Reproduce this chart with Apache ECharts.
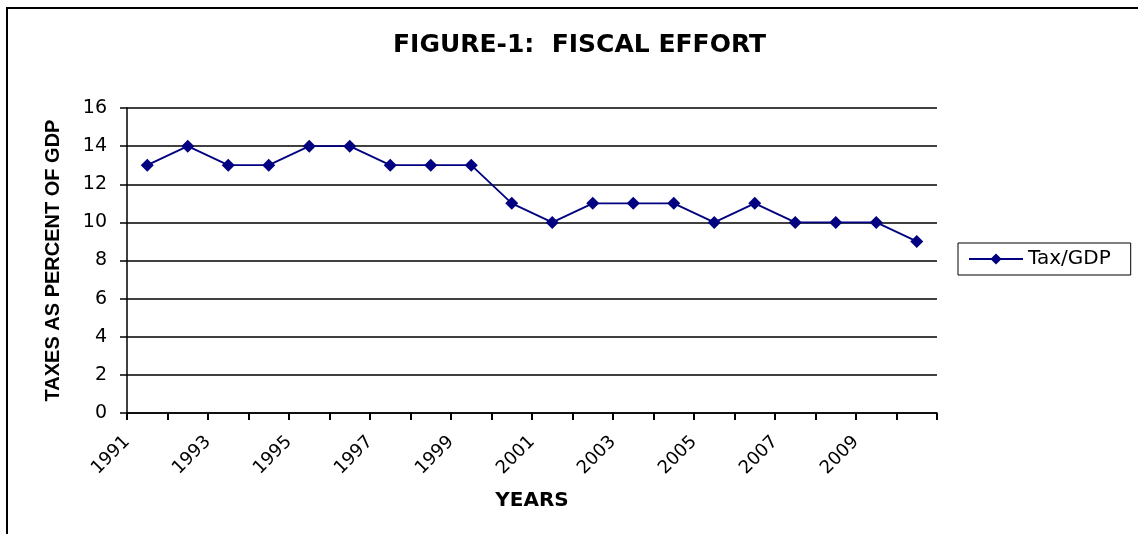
<!DOCTYPE html>
<html>
<head>
<meta charset="utf-8">
<script src="https://cdn.jsdelivr.net/npm/echarts@6/dist/echarts.min.js"></script>
<style>
html,body{margin:0;padding:0;background:#fff;}
#chart{width:1138px;height:534px;}
</style>
</head>
<body>
<div id="chart"></div>
<script>
var years = ['1991','1992','1993','1994','1995','1996','1997','1998','1999','2000',
             '2001','2002','2003','2004','2005','2006','2007','2008','2009','2010'];
var taxGdp = [13,14,13,13,14,14,13,13,13,11,10,11,11,11,10,11,10,10,10,9];
var tickLabels = ['1991','1992','1993','1994','1995','1996','1997','1998','1999','2000',
                  '2001','2002','2003','2004','2005','2006','2007','2008','2009','2010',''];
var yTicks = {min: 0, max: 16, interval: 2};

var chart = echarts.init(document.getElementById('chart'));
chart.setOption({
  backgroundColor: '#ffffff',
  animation: false,
  title: {
    text: 'FIGURE-1:  FISCAL EFFORT',
    left: 388, top: 28,
    textStyle: {fontFamily: 'DejaVu Sans', fontWeight: 'bold', fontSize: 25, color: '#000'}
  },
  graphic: [{
    type: 'rect', silent: true,
    shape: {x: 7, y: 8, width: 1300, height: 700},
    style: {fill: 'none', stroke: '#000', lineWidth: 2}
  }],
  legend: {
    left: 958, top: 243,
    orient: 'vertical',
    padding: [6, 20, 6, 10],
    itemWidth: 54, itemHeight: 14, itemGap: 5,
    borderColor: '#000', borderWidth: 1,
    textStyle: {fontFamily: 'DejaVu Sans', fontSize: 20, color: '#000'},
    data: ['Tax/GDP']
  },
  grid: {left: 127, top: 108, right: 201, bottom: 121, containLabel: false},
  xAxis: [{
    type: 'category', data: years, boundaryGap: true,
    name: 'YEARS', nameLocation: 'middle', nameGap: 78,
    nameTextStyle: {fontFamily: 'DejaVu Sans', fontWeight: 'bold', fontSize: 20, color: '#000'},
    axisLine: {lineStyle: {color: '#000', width: 1.5}},
    axisTick: {show: true, length: 7, lineStyle: {color: '#000', width: 2}},
    axisLabel: {show: false},
    splitLine: {show: false}
  }, {
    type: 'category', data: tickLabels, boundaryGap: false, position: 'bottom',
    axisLine: {show: false}, axisTick: {show: false},
    axisLabel: {show: true, interval: 1, rotate: 45, margin: 26,
      fontFamily: 'DejaVu Sans', fontSize: 18, color: '#000'},
    splitLine: {show: false}
  }],
  yAxis: {
    type: 'value', min: yTicks.min, max: yTicks.max, interval: yTicks.interval,
    name: 'TAXES AS PERCENT OF GDP', nameLocation: 'middle', nameGap: 64,
    nameTextStyle: {fontFamily: 'Liberation Sans', fontWeight: 'bold', fontSize: 20, color: '#000'},
    axisLine: {show: true, lineStyle: {color: '#000', width: 1.5}},
    axisTick: {show: true, length: 7, lineStyle: {color: '#000', width: 1.5}},
    axisLabel: {margin: 20, fontFamily: 'DejaVu Sans', fontSize: 19, color: '#000'},
    splitLine: {show: true, lineStyle: {color: '#000', width: 1.5}}
  },
  series: [{
    name: 'Tax/GDP', type: 'line', xAxisIndex: 0, data: taxGdp,
    symbol: 'diamond', symbolSize: 13, showSymbol: true,
    lineStyle: {color: '#000080', width: 1.8},
    itemStyle: {color: '#000080'}
  }]
});
</script>
</body>
</html>
